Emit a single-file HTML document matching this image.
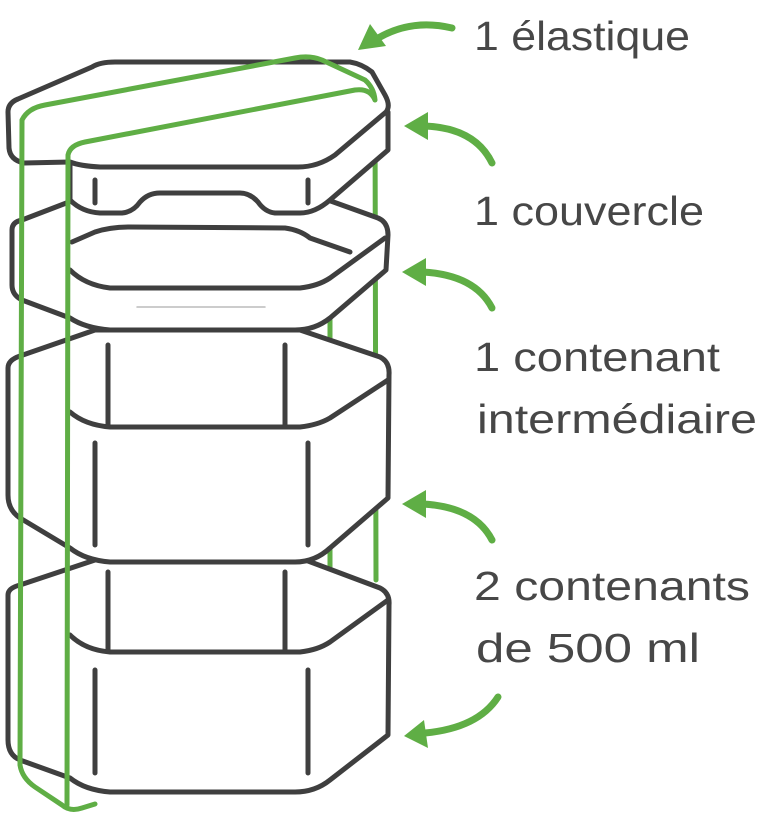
<!DOCTYPE html>
<html><head><meta charset="utf-8"><style>
html,body{margin:0;padding:0;background:#fff}
svg{display:block}
text{font-family:"Liberation Sans","DejaVu Sans",sans-serif;font-size:41px;fill:#474747}
</style></head><body>
<svg width="760" height="826" viewBox="0 0 760 826" xmlns="http://www.w3.org/2000/svg">
<g fill="none" stroke-linecap="round" stroke-linejoin="round">
<path d="M375 100 L376 580" stroke="#5fae45" stroke-width="5"/>
<path d="M330 300 L330 568" stroke="#5fae45" stroke-width="5"/>

<g stroke="#3f3f3f" stroke-width="5" fill="#fff">
<!-- bottom container -->
<path d="M8 595 Q8 588 20 585 L95 560 L300 558 L380 588 Q390 593 389 605 L388 735 L330 780 Q315 792 295 792 L110 792 Q85 790 70 778 L20 760 Q8 755 8 740 Z"/>
<path d="M70 635 Q85 650 110 652 L300 652 Q318 650 330 642 L388 600" fill="none"/>
<path d="M95 670 L95 773 M308 670 L308 773 M108 572 L108 650 M285 572 L285 650" fill="none"/>
<!-- intermediate container -->
<path d="M8 368 Q8 360 20 356 L95 330 L300 330 L380 357 Q390 362 389 375 L388 498 L330 548 Q315 562 295 562 L110 562 Q85 560 70 548 L20 518 Q8 510 8 495 Z"/>
<path d="M70 412 Q85 425 110 427 L300 427 Q318 425 330 418 L388 380" fill="none"/>
<path d="M95 443 L95 545 M308 443 L308 545 M108 345 L108 425 M285 345 L285 425" fill="none"/>
<!-- intermediate lid -->
<path d="M12 230 Q12 222 22 220 L95 192 L300 190 L378 218 Q388 222 388 235 L386 270 L330 318 Q315 330 295 330 L110 330 Q85 328 70 318 L22 300 Q12 295 12 285 Z"/>
<path d="M72 242 L95 232 Q110 227 130 227 L285 228 Q300 230 310 238 L350 252 M70 270 Q85 285 110 288 L300 288 Q318 286 330 278 L385 238" fill="none"/>
<path d="M137 307 L265 307" stroke="#bbb" stroke-width="1.5" fill="none"/>
<!-- top lid skirt -->
<path d="M70 200 L70 160 L388 112 L388 150 L330 200 Q315 213 300 213 L275 213 Q265 212 258 202 Q250 193 240 193 L160 193 Q148 193 140 202 Q133 212 122 213 L100 213 Q82 212 70 200 Z"/>
<path d="M95 180 L95 203 M308 180 L308 203" fill="none"/>
<!-- top lid -->
<path d="M8 112 Q8 103 18 99 L92 67 Q100 62 115 62 L350 62 Q362 64 372 72 L385 95 Q391 106 386 112 L335 155 Q318 167 298 167 L100 167 Q80 166 70 162 L24 163 Q10 160 9 148 Z"/>
</g>

<!-- green band -->
<path d="M22 120 Q28 108 45 105 L295 58 Q310 55 322 60 L365 80 Q374 88 375 100 M68 155 Q70 145 85 142 L355 90 Q370 88 375 100 M22 120 L20 765 Q22 778 35 787 L62 805 Q70 812 82 808 L95 804 M68 155 L67 805" stroke="#5fae45" stroke-width="5"/>

<g stroke="#5fae45" stroke-width="7">
<path d="M452 28 Q410 18 375 40"/>
<path d="M492 163 Q475 128 425 126"/>
<path d="M492 308 Q475 275 423 272"/>
<path d="M492 540 Q475 507 423 504"/>
<path d="M498 697 Q478 728 425 733"/>
</g>
</g>
<g fill="#5fae45">
<polygon points="358,50 370,24 386,46"/>
<polygon points="404,126 428,112 428,140"/>
<polygon points="402,272 426,258 426,286"/>
<polygon points="402,504 426,490 426,518"/>
<polygon points="404,736 424,720 428,748"/>
</g>
<text x="474" y="50" textLength="216" lengthAdjust="spacingAndGlyphs">1 élastique</text>
<text x="474" y="225" textLength="230" lengthAdjust="spacingAndGlyphs">1 couvercle</text>
<text x="474" y="371" textLength="246" lengthAdjust="spacingAndGlyphs">1 contenant</text>
<text x="477" y="433" textLength="280" lengthAdjust="spacingAndGlyphs">intermédiaire</text>
<text x="474" y="600" textLength="276" lengthAdjust="spacingAndGlyphs">2 contenants</text>
<text x="476" y="662" textLength="224" lengthAdjust="spacingAndGlyphs">de 500 ml</text>
</svg>
</body></html>
